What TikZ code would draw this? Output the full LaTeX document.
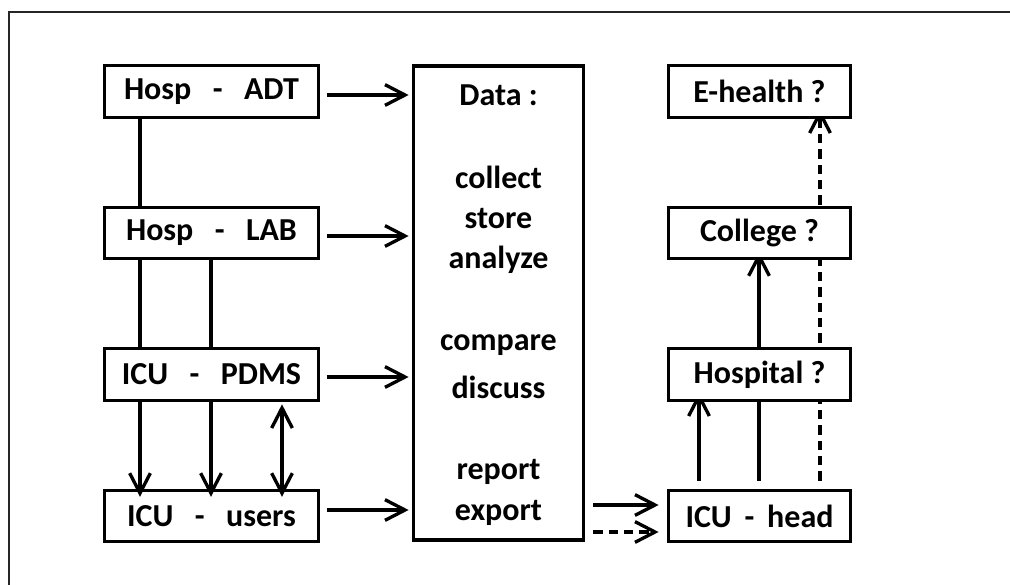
\documentclass[tikz,border=0pt]{standalone}
\usepackage{fontspec}
\setmainfont{Carlito}[BoldFont={Carlito Bold}]
\usetikzlibrary{arrows.meta,backgrounds}
\newcommand{\gapw}{\hspace{0.67em}}
\newcommand{\gapn}{\hspace{0.4em}}
\begin{document}
\begin{tikzpicture}[x=0.75pt,y=-0.75pt,
  every node/.style={font=\bfseries\fontsize{24}{29}\selectfont, inner sep=0pt},
  box/.style={draw, line width=2.3pt, fill=white, minimum height=38.5pt},
  lbox/.style={box, minimum width=160pt},
  rbox/.style={box, minimum width=137pt},
  line/.style={line width=2.5pt},
  arr/.style={line, -{Straight Barb[length=15pt,width=15.5pt,line width=2.5pt]}},
  darr/.style={line, {Straight Barb[length=15pt,width=15.5pt,line width=2.5pt]}-{Straight Barb[length=15pt,width=15.5pt,line width=2.5pt]}},
  dashline/.style={dash pattern=on 7pt off 4.5pt}]
\useasboundingbox (0,0) rectangle (1010,585);
% frame (top and left edges)
\draw[line width=1.9pt, black!85] (9,585) -- (9,12) -- (1010,12);

% source systems
\node[lbox] (adt)   at (211.5,91.5)  {Hosp\gapw-\gapw ADT};
\node[lbox] (lab)   at (211.5,233)   {Hosp\gapw-\gapw LAB};
\node[lbox] (pdms)  at (211.5,374.5) {ICU\gapw-\gapw PDMS};
\node[lbox] (users) at (211.5,516)   {ICU\gapw-\gapw users};

% central data box
\node[draw, line width=2.3pt, minimum width=128pt, minimum height=355.5pt] (data) at (498.5,303) {};
\node (t0) at (498.5,95)  {Data :};
\node (t1) at (498.5,177) {collect};
\node (t2) at (498.5,219) {store};
\node (t3) at (498.5,260) {analyze};
\node (t4) at (498.5,345) {compare};
\node (t5) at (498.5,387) {discuss};
\node (t6) at (498.5,472) {report};
\node (t7) at (498.5,513) {export};

% escalation levels
\node[rbox] (ehealth)  at (759.5,91.5)  {E-health ?};
\node[rbox] (college)  at (759.5,233)   {College ?};
\node[rbox] (hospital) at (759.5,374.5) {Hospital ?};
\node[rbox] (head)     at (759.5,516)   {ICU\gapn-\gapn head};

% links between source systems
\draw[line] (adt.south -| 140,0) -- (lab.north -| 140,0);
\draw[line] (lab.south -| 140,0) -- (pdms.north -| 140,0);
\draw[line] (lab.south -| 211,0) -- (pdms.north -| 211,0);
\draw[arr] (pdms.south -| 140,0) -- ([yshift=-6]users.north -| 140,0);
\draw[arr] (pdms.south -| 211,0) -- ([yshift=-6]users.north -| 211,0);
\draw[darr] ([yshift=-2]pdms.south -| 282,0) -- ([yshift=-6]users.north -| 282,0);

% feeds into the data box
\draw[arr] ([shift={(7,3.5)}]adt.east)   -- ([shift={(-3,3.5)}]data.west |- adt.east);
\draw[arr] ([shift={(7,3)}]lab.east)     -- ([shift={(-3,3)}]data.west |- lab.east);
\draw[arr] ([shift={(7,2.5)}]pdms.east)  -- ([shift={(-3,2.5)}]data.west |- pdms.east);
\draw[arr] ([shift={(7,-6)}]users.east)  -- ([shift={(-3,-6)}]data.west |- users.east);

% data box to ICU head
\draw[arr] ([xshift=6]data.east |- 0,505) -- ([xshift=-6]head.west |- 0,505);
\draw[arr, dashline] ([xshift=6]data.east |- 0,532) -- ([xshift=-6]head.west |- 0,532);

% escalation paths (behind the boxes)
\begin{scope}[on background layer]
  \draw[arr] ([yshift=6]head.north -| 699,0) -- ([yshift=7]hospital.south -| 699,0);
  \draw[arr] ([yshift=6]head.north -| 759,0) -- ([yshift=6]college.south -| 759,0);
  \draw[arr, dashline] ([yshift=6]head.north -| 820,0) -- ([yshift=7]ehealth.south -| 820,0);
\end{scope}
\end{tikzpicture}
\end{document}
